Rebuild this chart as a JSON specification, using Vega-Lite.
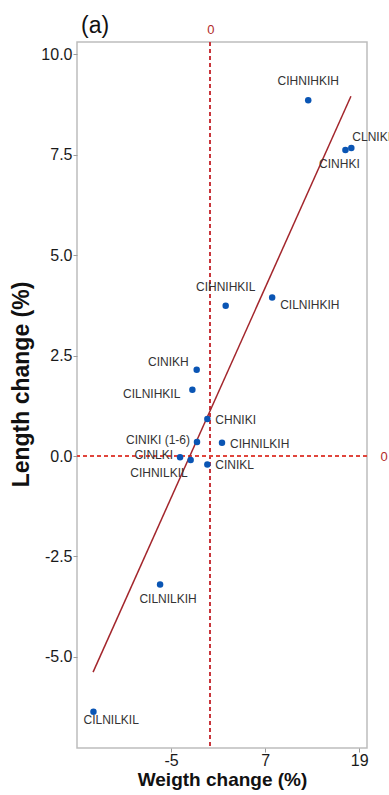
{
  "$schema": "https://vega.github.io/schema/vega-lite/v6.json",
  "width": 290,
  "height": 706,
  "autosize": {"type": "none"},
  "padding": {"left": 77, "top": 42, "right": 22, "bottom": 47},
  "background": "white",
  "title": {"text": "(a)", "anchor": "start", "frame": "group", "fontSize": 23, "fontWeight": "normal", "color": "#111111", "baseline": "alphabetic", "offset": 0, "dx": 4, "dy": 33},
  "datasets": {
    "pts": [
      {"label": "CIHNIHKIH", "w": 12.5, "l": 8.86},
      {"label": "CLNIKI", "w": 18.0, "l": 7.67},
      {"label": "CINHKI", "w": 17.25, "l": 7.62},
      {"label": "CIHNIHKIL", "w": 1.97, "l": 3.74},
      {"label": "CILNIHKIH", "w": 7.9, "l": 3.95},
      {"label": "CINIKH", "w": -1.73, "l": 2.15},
      {"label": "CILNIHKIL", "w": -2.28, "l": 1.65},
      {"label": "CHNIKI", "w": -0.37, "l": 0.92},
      {"label": "CINIKI (1-6)", "w": -1.69, "l": 0.35},
      {"label": "CIHNILKIH", "w": 1.5, "l": 0.33},
      {"label": "CINLKI", "w": -3.85, "l": -0.03},
      {"label": "CIHNILKIL", "w": -2.5, "l": -0.1},
      {"label": "CINIKL", "w": -0.37, "l": -0.21},
      {"label": "CILNILKIH", "w": -6.4, "l": -3.2},
      {"label": "CILNILKIL", "w": -14.9, "l": -6.37}
    ],
    "fit": [
      {"w": -14.95, "l": -5.38},
      {"w": 17.95, "l": 8.96}
    ]
  },
  "data": {"name": "pts"},
  "layer": [
    {
      "mark": {"type": "rule", "color": "#c8363c", "strokeDash": [4, 3], "strokeWidth": 1.5},
      "encoding": {
        "x": {"datum": 0, "type": "quantitative", "scale": {"domain": [-17, 20], "nice": false, "zero": false},
          "axis": {"orient": "top", "values": [0], "grid": false, "ticks": false, "domain": false, "labelColor": "#b22a2a", "labelFontSize": 13, "labelPadding": 6, "title": null}}
      }
    },
    {
      "mark": {"type": "rule", "color": "#e0463c", "strokeDash": [4, 3], "strokeWidth": 1.5},
      "encoding": {
        "y": {"datum": 0, "type": "quantitative", "scale": {"domain": [-7.27, 10.31], "nice": false, "zero": false},
          "axis": {"orient": "right", "values": [0], "grid": false, "ticks": false, "domain": false, "labelColor": "#b22a2a", "labelFontSize": 13, "labelPadding": 13, "title": null}}
      }
    },
    {
      "data": {"name": "fit"},
      "mark": {"type": "line", "color": "#a3262c", "strokeWidth": 1.5},
      "encoding": {
        "x": {"field": "w", "type": "quantitative", "axis": {"orient": "bottom", "values": [-5, 7, 19], "labelPadding": 0, "titlePadding": 2, "title": "Weigth change (%)"}},
        "y": {"field": "l", "type": "quantitative", "axis": {"orient": "left", "values": [-5, -2.5, 0, 2.5, 5, 7.5, 10], "format": ".1f", "labelPadding": 1, "title": "Length change (%)", "titleFontSize": 23, "titleX": -44, "titleY": 342}}
      }
    },
    {
      "mark": {"type": "circle", "size": 42, "color": "#0a55b4", "opacity": 1},
      "encoding": {
        "x": {"field": "w", "type": "quantitative", "axis": null},
        "y": {"field": "l", "type": "quantitative", "axis": null}
      }
    },
    {
      "transform": [{"filter": {"field": "label", "oneOf": ["CIHNIHKIH", "CIHNIHKIL"]}}],
      "mark": {"type": "text", "align": "center", "baseline": "middle", "dy": -19, "fontSize": 12, "color": "#333333"},
      "encoding": {"x": {"field": "w", "type": "quantitative", "axis": null}, "y": {"field": "l", "type": "quantitative", "axis": null}, "text": {"field": "label"}}
    },
    {
      "transform": [{"filter": {"field": "label", "oneOf": ["CHNIKI", "CIHNILKIH", "CINIKL"]}}],
      "mark": {"type": "text", "align": "left", "baseline": "middle", "dx": 8, "dy": 1, "fontSize": 12, "color": "#333333"},
      "encoding": {"x": {"field": "w", "type": "quantitative", "axis": null}, "y": {"field": "l", "type": "quantitative", "axis": null}, "text": {"field": "label"}}
    },
    {
      "transform": [{"filter": {"field": "label", "equal": "CILNIHKIH"}}],
      "mark": {"type": "text", "align": "left", "baseline": "middle", "dx": 8, "dy": 8, "fontSize": 12, "color": "#333333"},
      "encoding": {"x": {"field": "w", "type": "quantitative", "axis": null}, "y": {"field": "l", "type": "quantitative", "axis": null}, "text": {"field": "label"}}
    },
    {
      "transform": [{"filter": {"field": "label", "equal": "CLNIKI"}}],
      "mark": {"type": "text", "align": "left", "baseline": "middle", "dx": 1, "dy": -11, "fontSize": 12, "color": "#333333"},
      "encoding": {"x": {"field": "w", "type": "quantitative", "axis": null}, "y": {"field": "l", "type": "quantitative", "axis": null}, "text": {"field": "label"}}
    },
    {
      "transform": [{"filter": {"field": "label", "equal": "CINIKH"}}],
      "mark": {"type": "text", "align": "right", "baseline": "middle", "dx": -8, "dy": -8, "fontSize": 12, "color": "#333333"},
      "encoding": {"x": {"field": "w", "type": "quantitative", "axis": null}, "y": {"field": "l", "type": "quantitative", "axis": null}, "text": {"field": "label"}}
    },
    {
      "transform": [{"filter": {"field": "label", "oneOf": ["CINIKI (1-6)", "CINLKI"]}}],
      "mark": {"type": "text", "align": "right", "baseline": "middle", "dx": -7, "dy": -2, "fontSize": 12, "color": "#333333"},
      "encoding": {"x": {"field": "w", "type": "quantitative", "axis": null}, "y": {"field": "l", "type": "quantitative", "axis": null}, "text": {"field": "label"}}
    },
    {
      "transform": [{"filter": {"field": "label", "equal": "CILNIHKIL"}}],
      "mark": {"type": "text", "align": "right", "baseline": "middle", "dx": -12, "dy": 4, "fontSize": 12, "color": "#333333"},
      "encoding": {"x": {"field": "w", "type": "quantitative", "axis": null}, "y": {"field": "l", "type": "quantitative", "axis": null}, "text": {"field": "label"}}
    },
    {
      "transform": [{"filter": {"field": "label", "equal": "CIHNILKIL"}}],
      "mark": {"type": "text", "align": "right", "baseline": "middle", "dx": -3, "dy": 13, "fontSize": 12, "color": "#333333"},
      "encoding": {"x": {"field": "w", "type": "quantitative", "axis": null}, "y": {"field": "l", "type": "quantitative", "axis": null}, "text": {"field": "label"}}
    },
    {
      "transform": [{"filter": {"field": "label", "equal": "CINHKI"}}],
      "mark": {"type": "text", "align": "center", "baseline": "middle", "dx": -6, "dy": 14, "fontSize": 12, "color": "#333333"},
      "encoding": {"x": {"field": "w", "type": "quantitative", "axis": null}, "y": {"field": "l", "type": "quantitative", "axis": null}, "text": {"field": "label"}}
    },
    {
      "transform": [{"filter": {"field": "label", "equal": "CILNILKIH"}}],
      "mark": {"type": "text", "align": "center", "baseline": "middle", "dx": 8, "dy": 14, "fontSize": 12, "color": "#333333"},
      "encoding": {"x": {"field": "w", "type": "quantitative", "axis": null}, "y": {"field": "l", "type": "quantitative", "axis": null}, "text": {"field": "label"}}
    },
    {
      "transform": [{"filter": {"field": "label", "equal": "CILNILKIL"}}],
      "mark": {"type": "text", "align": "left", "baseline": "middle", "dx": -10, "dy": 8, "fontSize": 12, "color": "#333333"},
      "encoding": {"x": {"field": "w", "type": "quantitative", "axis": null}, "y": {"field": "l", "type": "quantitative", "axis": null}, "text": {"field": "label"}}
    }
  ],
  "resolve": {"axis": {"x": "independent", "y": "independent"}},
  "config": {
    "font": "Liberation Sans",
    "locale": {"number": {"decimal": ".", "thousands": ",", "grouping": [3], "currency": ["$", ""], "minus": "-"}},
    "view": {"stroke": "#bdbdbd", "strokeWidth": 1.5},
    "axis": {"grid": true, "gridColor": "#dcdcdc", "gridDash": [4, 3], "gridWidth": 1, "domain": false, "tickColor": "#9a9a9a", "tickSize": 4, "labelFontSize": 16, "labelColor": "#1a1a1a", "titleFontSize": 19, "titleFontWeight": "bold", "titleColor": "#111111"}
  }
}
